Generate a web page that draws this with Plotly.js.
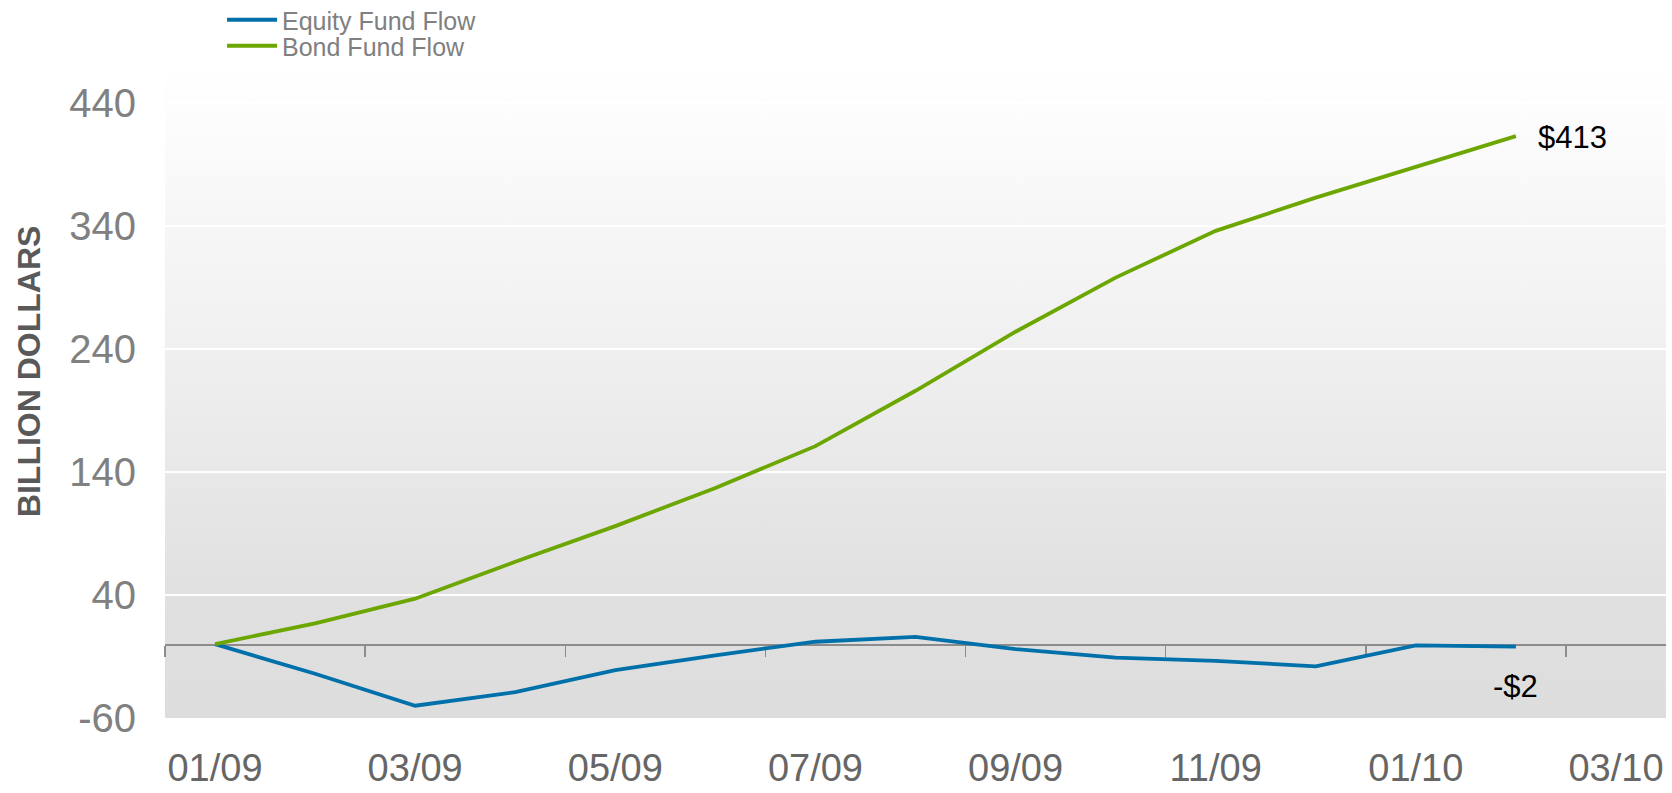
<!DOCTYPE html>
<html>
<head>
<meta charset="utf-8">
<script src="https://cdn.plot.ly/plotly-3.0.1.min.js"></script>
<style>
  html, body { margin: 0; padding: 0; background: #ffffff; }
  #wrap { position: relative; width: 1672px; height: 793px; }
  #bg { position: absolute; background: linear-gradient(to bottom, #ffffff 0%, #f1f1f1 40%, #e0e0e0 82%, #dddddd 100%); }
  #chart { position: absolute; left: 0; top: 0; width: 1672px; height: 793px; }
</style>
</head>
<body>
<div id="wrap">
  <div id="bg"></div>
  <div id="chart"></div>
</div>
<script>
// Monthly categories on the horizontal axis
const months = ['01/09', '02/09', '03/09', '04/09', '05/09', '06/09', '07/09',
                '08/09', '09/09', '10/09', '11/09', '12/09', '01/10', '02/10', '03/10'];
// Every other month gets a label
const tickLabels = ['01/09', '03/09', '05/09', '07/09', '09/09', '11/09', '01/10', '03/10'];

// Cumulative fund flows, billion dollars
const equityFlow = [0, -24, -50, -39, -21, -9, 2, 6, -4, -11, -13.5, -18, -1, -2];
const bondFlow   = [0, 17, 37, 67, 96, 127, 161, 206, 254, 298, 336, 363, 388, 413];

const seriesNames = ['Equity Fund Flow', 'Bond Fund Flow'];
const yTicks = [-60, 40, 140, 240, 340, 440];
const yTickText = ['-60', '40', '140', '240', '340', '440'];
const yRange = [-60, 470];

const FONT = 'Liberation Sans, Arial, Helvetica, sans-serif';
const W = 1672, H = 793;
const margin = { l: 165, r: 6, t: 66, b: 75 };

const xRange = [-0.5, months.length - 0.5];
const idx = (arr) => arr.map((_, i) => i);
const tickPos = tickLabels.map(l => months.indexOf(l));
const boundaries = tickPos.map(p => p - 0.5);
const zeroFrac = (0 - yRange[0]) / (yRange[1] - yRange[0]);

// Plot-area background gradient sits behind the transparent plot
const bg = document.getElementById('bg');
bg.style.left = margin.l + 'px';
bg.style.top = margin.t + 'px';
bg.style.width = (W - margin.l - margin.r) + 'px';
bg.style.height = (H - margin.t - margin.b) + 'px';

const traces = [
  {
    x: idx(equityFlow), y: equityFlow, name: seriesNames[0], type: 'scatter', mode: 'lines',
    line: { color: '#0070aa', width: 3.8 }, legend: 'legend', hoverinfo: 'y'
  },
  {
    x: idx(bondFlow), y: bondFlow, name: seriesNames[1], type: 'scatter', mode: 'lines',
    line: { color: '#6ca600', width: 3.8 }, legend: 'legend2', hoverinfo: 'y'
  },
  {
    // carries the zero-line axis with its boundary tick marks
    x: [], y: [], xaxis: 'x2', type: 'scatter', mode: 'lines', showlegend: false, hoverinfo: 'skip'
  }
];

const lastEq = equityFlow[equityFlow.length - 1];
const lastBond = bondFlow[bondFlow.length - 1];
const fmt = v => (v < 0 ? '-$' : '$') + Math.abs(v);

const legendCommon = {
  xref: 'container', yref: 'container', xanchor: 'left', yanchor: 'middle',
  bgcolor: 'rgba(0,0,0,0)', borderwidth: 0, itemwidth: 50,
  font: { family: FONT, size: 25, color: '#808080' }
};

const layout = {
  width: W, height: H,
  margin: Object.assign({ autoexpand: false }, margin),
  paper_bgcolor: 'rgba(0,0,0,0)',
  plot_bgcolor: 'rgba(0,0,0,0)',
  font: { family: FONT },
  showlegend: true,
  legend: Object.assign({}, legendCommon, { x: 0.1328, y: 1 - 20 / H }),
  legend2: Object.assign({}, legendCommon, { x: 0.1328, y: 1 - 46 / H }),
  xaxis: {
    type: 'linear', range: xRange,
    tickmode: 'array', tickvals: tickPos, ticktext: tickLabels,
    ticks: '', showgrid: false, zeroline: false, showline: false,
    tickfont: { family: FONT, size: 38, color: '#666666' },
    ticklabelstandoff: 24
  },
  xaxis2: {
    type: 'linear', range: xRange, overlaying: 'x', anchor: 'free', position: zeroFrac,
    tickmode: 'array', tickvals: boundaries, ticks: 'outside', ticklen: 11,
    tickwidth: 1.5, tickcolor: '#8c8c8c', showticklabels: false,
    showline: true, linecolor: '#8c8c8c', linewidth: 1.5,
    showgrid: false, zeroline: false, layer: 'below traces'
  },
  yaxis: {
    range: yRange, tickmode: 'array', tickvals: yTicks, ticktext: yTickText,
    showgrid: true, gridcolor: '#ffffff', gridwidth: 1.5,
    zeroline: false, showline: false, ticks: '',
    tickfont: { family: FONT, size: 40, color: '#808080' },
    ticklabelstandoff: 28, layer: 'below traces'
  },
  annotations: [
    {
      x: bondFlow.length - 1, y: lastBond, xref: 'x', yref: 'y',
      text: fmt(lastBond), showarrow: false, xanchor: 'left', yanchor: 'middle',
      xshift: 20, yshift: -1, font: { family: FONT, size: 31, color: '#000000' }
    },
    {
      x: equityFlow.length - 1, y: lastEq, xref: 'x', yref: 'y',
      text: fmt(lastEq), showarrow: false, xanchor: 'center', yanchor: 'middle',
      yshift: -40, font: { family: FONT, size: 31, color: '#000000' }
    },
    {
      x: -0.0906, y: 0.532, xref: 'paper', yref: 'paper',
      text: '<b>BILLION DOLLARS</b>', textangle: -90, showarrow: false,
      xanchor: 'center', yanchor: 'middle',
      font: { family: FONT, size: 32, color: '#595959' }
    }
  ]
};

Plotly.newPlot('chart', traces, layout, { displayModeBar: false, staticPlot: true });
</script>
</body>
</html>
